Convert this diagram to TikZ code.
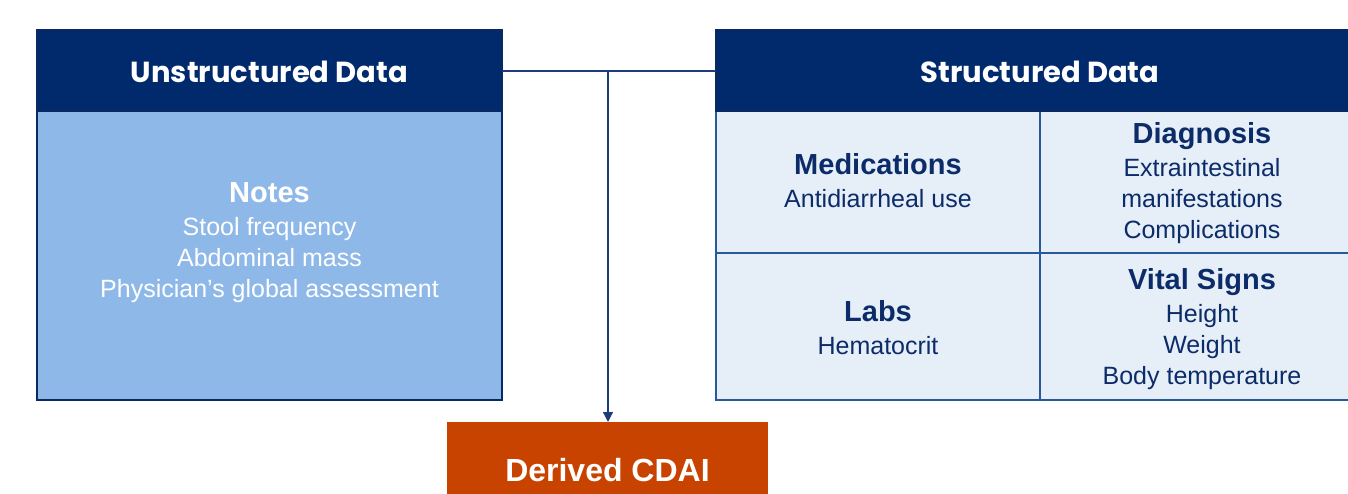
\documentclass[tikz,border=0pt]{standalone}
\usepackage{fontspec}
\setmainfont{Liberation Sans}
\newfontfamily\headfont{Poppins}
\usetikzlibrary{arrows.meta}

\definecolor{navy}{RGB}{0,42,108}
\definecolor{navyline}{RGB}{10,40,100}
\definecolor{softblue}{RGB}{142,184,232}
\definecolor{paleblue}{RGB}{230,238,248}
\definecolor{gridblue}{RGB}{40,90,155}
\definecolor{textnavy}{RGB}{12,44,105}
\definecolor{rust}{RGB}{200,66,0}
\definecolor{linkblue}{RGB}{30,60,125}

\tikzset{
  x=1pt, y=-1pt,
  header/.style={draw=navyline, line width=1.5pt, fill=navy, text=white,
    font=\headfont\bfseries\fontsize{29}{34}\selectfont},
  notesbox/.style={draw=navyline, line width=1.8pt, fill=softblue},
  cellbox/.style={draw=gridblue, line width=1.8pt, fill=paleblue},
  celltext/.style={align=center, text=textnavy, font=\fontsize{25}{31}\selectfont},
  notestext/.style={align=center, text=white, font=\fontsize{25}{31}\selectfont},
  resultbox/.style={fill=rust, text=white, font=\bfseries\fontsize{32}{36}\selectfont},
  link/.style={draw=linkblue, line width=1.3pt},
}
\newcommand{\hd}[1]{{\bfseries\fontsize{29}{31}\selectfont #1}\\[2pt]}

\begin{document}
\begin{tikzpicture}
\useasboundingbox (0,0) rectangle (1348,494);
\clip (0,0) rectangle (1348,494);

% left panel: unstructured sources
\draw[notesbox] (37,111) rectangle (502,400);
\draw[header] (37,30) rectangle (502,111);
\node[header, draw=none, fill=none] (uhead) at (269.5,72) {Unstructured Data};
\coordinate (uR) at (502,71);
\node[notestext] (notes) at (269.5,243)
  {\hd{Notes}Stool frequency\\Abdominal mass\\Physician’s global assessment};

% right panel: structured sources in a 2x2 grid
\draw[cellbox] (716,111) rectangle (1040,253);
\draw[cellbox] (1040,111) rectangle (1364,253);
\draw[cellbox] (716,253) rectangle (1040,400);
\draw[cellbox] (1040,253) rectangle (1364,400);
\draw[header] (716,30) rectangle (1364,111);
\node[header, draw=none, fill=none] (shead) at (1040,72) {Structured Data};
\coordinate (sL) at (716,71);

\node[celltext] (meds) at (878,181) {\hd{Medications}Antidiarrheal use};
\node[celltext] (diag) at (1202,183)
  {\hd{Diagnosis}Extraintestinal\\manifestations\\Complications};
\node[celltext] (labs) at (878,328) {\hd{Labs}Hematocrit};
\node[celltext] (vital) at (1202,329)
  {\hd{Vital Signs}Height\\Weight\\Body temperature};

% output
\node[resultbox, minimum width=321pt, minimum height=100pt, anchor=north west]
  (cdai) at (447,422) {};
\node[text=white, font=\bfseries\fontsize{32}{36}\selectfont] (cdailabel) at (607.5,470) {Derived CDAI};

% connectors
\coordinate (j) at (608,71);
\draw[link] (uR) -- (sL);
\draw[link, -{Triangle[length=10pt,width=10pt]}] (j) -- (cdai.north -| j);
\end{tikzpicture}
\end{document}
